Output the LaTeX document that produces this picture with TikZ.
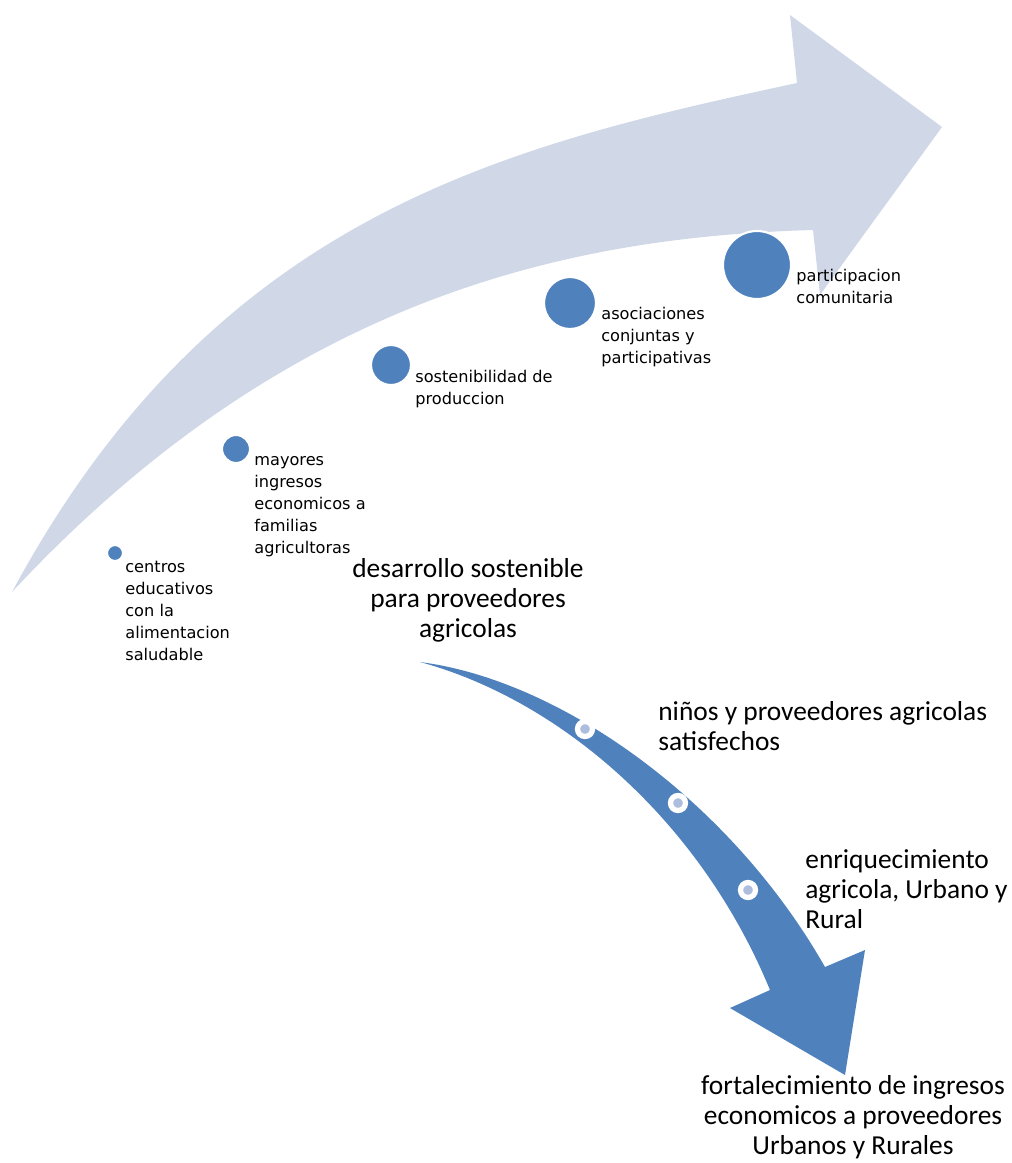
\documentclass[tikz,border=0pt]{standalone}
\usepackage{fontspec}
\setmainfont{Carlito}
\newfontfamily\dotfont{DejaVu Sans}
\usepackage{tikz}
\usetikzlibrary{positioning}
\definecolor{palearrow}{RGB}{208,216,232}
\definecolor{deepblue}{RGB}{79,129,189}
\definecolor{ringcore}{RGB}{172,189,222}

\begin{document}
\begin{tikzpicture}[x=0.02cm,y=-0.02cm,
  dot/.style={circle,fill=deepblue,draw=white,line width=1.2pt,inner sep=0pt},
  ring/.style={circle,fill=ringcore,draw=white,line width=3pt,inner sep=0pt,minimum size=0.3cm},
  steptext/.style={anchor=base west,align=left,inner sep=0pt,font=\dotfont\fontsize{9.2}{12.5}\selectfont},
  bigtext/.style={anchor=base,align=center,inner sep=0pt,font=\fontsize{15.6}{16.8}\selectfont},
  sidetext/.style={anchor=base west,align=left,inner sep=0pt,font=\fontsize{15.6}{16.8}\selectfont}]
\useasboundingbox (0,0) rectangle (1011,1163);
% light curved arrow
\fill[palearrow] (12,592) .. controls (215,215) and (503,146) .. (797,83)
  -- (790,15) -- (942,127) -- (820,295) -- (813,230)
  .. controls (563,237) and (284,300) .. (12,592) -- cycle;
% growing dots (labels placed by their last baseline)
\node[dot,minimum size=0.32cm] (c1) at (115,553) {};
\node[dot,minimum size=0.56cm] (c2) at (236,449) {};
\node[dot,minimum size=0.80cm] (c3) at (391,365) {};
\node[dot,minimum size=1.04cm] (c4) at (570,303) {};
\node[dot,minimum size=1.36cm] (c5) at (757,265) {};
\node[steptext] (t1) at (125,660) {centros\\educativos\\con la\\alimentacion\\saludable};
\node[steptext] (t2) at (254,553) {mayores\\ingresos\\economicos a\\familias\\agricultoras};
\node[steptext] (t3) at (415,404) {sostenibilidad de\\produccion};
\node[steptext] (t4) at (601,363) {asociaciones\\conjuntas y\\participativas};
\node[steptext] (t5) at (796,303) {participacion\\comunitaria};
% dark arrow
\fill[deepblue] (420,662) .. controls (560,680) and (730,800) .. (825,967)
  -- (865,950) -- (845,1075) -- (730,1008) -- (770,990)
  .. controls (700,820) and (560,700) .. (420,662) -- cycle;
\node[ring] (r1) at (585,729) {};
\node[ring] (r2) at (678,803) {};
\node[ring] (r3) at (748,890) {};
% texts
\node[bigtext] (main) at (468,637) {desarrollo sostenible\\para proveedores\\agricolas};
\node[sidetext] (s1) at (658,750) {niños y proveedores agricolas\\satisfechos};
\node[sidetext] (s2) at (805,928) {enriquecimiento\\agricola, Urbano y\\Rural};
\node[bigtext] (goal) at (853,1154) {fortalecimiento de ingresos\\economicos a proveedores\\Urbanos y Rurales};
\end{tikzpicture}
\end{document}
